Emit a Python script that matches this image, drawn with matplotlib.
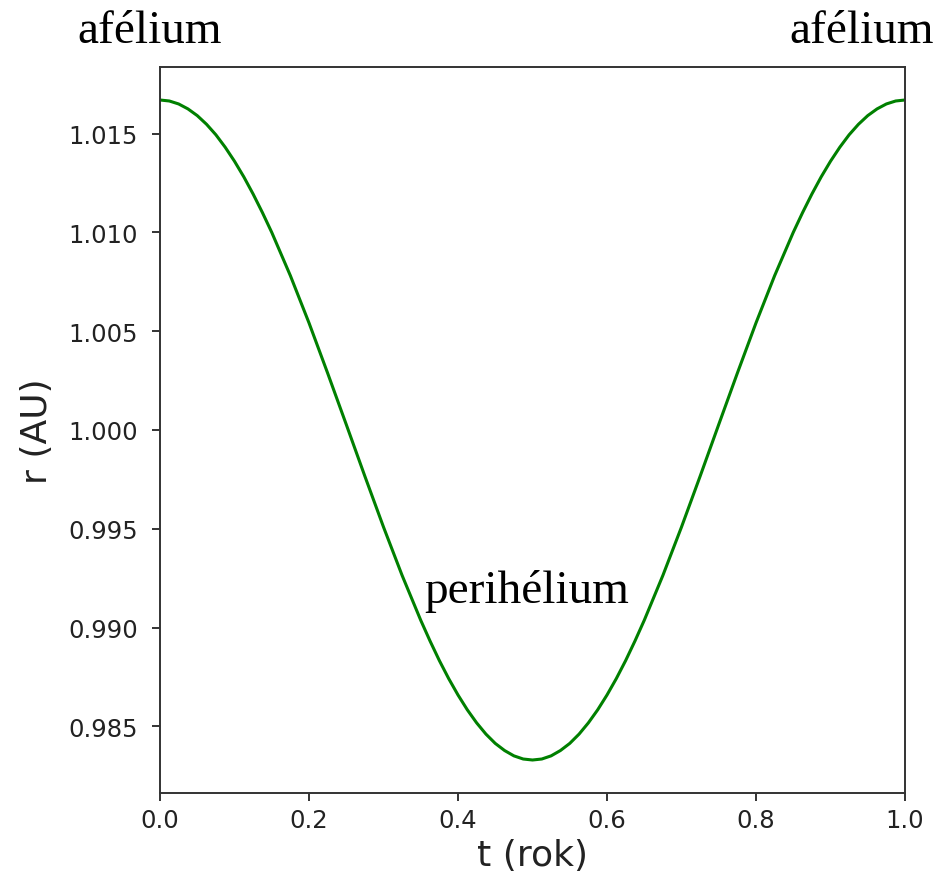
import matplotlib
matplotlib.use("Agg")
import matplotlib.pyplot as plt

# Values (denser near aphelion / perihelion)
t_rok = [0.0000, 0.0125, 0.0250, 0.0375, 0.0500, 0.0625, 0.0750, 0.0875, 0.1000,
         0.1125, 0.1250, 0.1375, 0.1500, 0.1750, 0.2000, 0.2250, 0.2500, 0.2750,
         0.3000, 0.3250, 0.3500, 0.3625, 0.3750, 0.3875, 0.4000, 0.4125, 0.4250,
         0.4375, 0.4500, 0.4625, 0.4750, 0.4875, 0.5000,
         0.5125, 0.5250, 0.5375, 0.5500, 0.5625, 0.5750, 0.5875, 0.6000, 0.6125,
         0.6250, 0.6375, 0.6500, 0.6750, 0.7000, 0.7250, 0.7500, 0.7750, 0.8000,
         0.8250, 0.8500, 0.8625, 0.8750, 0.8875, 0.9000, 0.9125, 0.9250, 0.9375,
         0.9500, 0.9625, 0.9750, 0.9875, 1.0000]
r_au = [1.01670, 1.01665, 1.01650, 1.01625, 1.01591, 1.01547, 1.01494, 1.01431, 1.01360,
        1.01281, 1.01194, 1.01100, 1.01000, 1.00781, 1.00542, 1.00288, 1.00028, 0.99766,
        0.99509, 0.99264, 0.99037, 0.98932, 0.98833, 0.98742, 0.98659, 0.98584, 0.98518,
        0.98461, 0.98414, 0.98378, 0.98351, 0.98335, 0.98330,
        0.98335, 0.98351, 0.98378, 0.98414, 0.98461, 0.98518, 0.98584, 0.98659, 0.98742,
        0.98833, 0.98932, 0.99037, 0.99264, 0.99509, 0.99766, 1.00028, 1.00288, 1.00542,
        1.00781, 1.01000, 1.01100, 1.01194, 1.01281, 1.01360, 1.01431, 1.01494, 1.01547,
        1.01591, 1.01625, 1.01650, 1.01665, 1.01670]

x_ticks = [0.0, 0.2, 0.4, 0.6, 0.8, 1.0]
y_ticks = [0.985, 0.990, 0.995, 1.000, 1.005, 1.010, 1.015]

W, H = 937, 887
fig = plt.figure(figsize=(W / 100, H / 100), dpi=100)
ax = fig.add_axes([160 / W, 93 / H, 745 / W, 726 / H])

ax.plot(t_rok, r_au, color="#008000", lw=2.2, solid_joinstyle="round")
ax.set_xlim(0.0, 1.0)
ax.set_xticks(x_ticks)
ax.set_xticklabels([f"{v:.1f}" for v in x_ticks])
ax.set_yticks(y_ticks)
ax.set_yticklabels([f"{v:.3f}" for v in y_ticks])

for s in ax.spines.values():
    s.set_linewidth(1.4)
    s.set_color("#333333")
ax.tick_params(axis="both", labelsize=17.5, width=1.4, length=6, color="#333333",
               labelcolor="#222222")
ax.tick_params(axis="y", pad=10)
ax.tick_params(axis="x", pad=5)

ax.set_xlabel("t (rok)", fontsize=26, color="#222222", labelpad=4)
ax.set_ylabel("r (AU)", fontsize=26, color="#222222", labelpad=10)

serif = ["Liberation Serif", "DejaVu Serif"]
fig.text(77 / W, 1 - 43 / H, "afélium", family=serif, fontsize=34,
         ha="left", va="baseline", color="black")
fig.text(934 / W, 1 - 43 / H, "afélium", family=serif, fontsize=34,
         ha="right", va="baseline", color="black")
fig.text(424 / W, 1 - 603 / H, "perihélium", family=serif, fontsize=34,
         ha="left", va="baseline", color="black")

fig.savefig("out.png", dpi=100, facecolor="white")
